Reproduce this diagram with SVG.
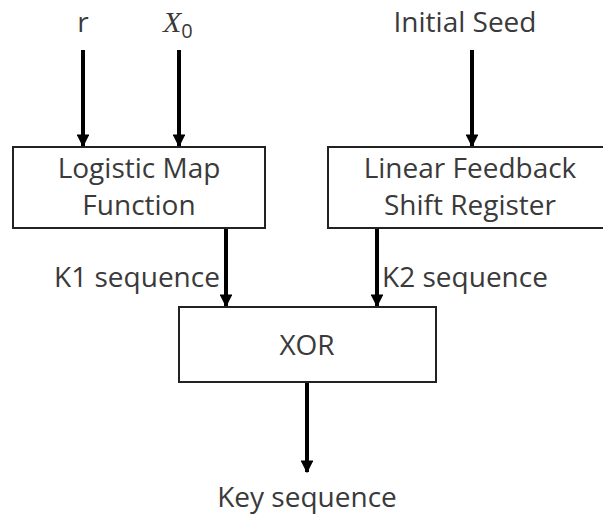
<svg xmlns="http://www.w3.org/2000/svg" width="603" height="516" viewBox="0 0 603 516">
<style>
.box{fill:#fff;stroke:#222;stroke-width:2}
.t{font-family:"Open Sans","Liberation Sans",sans-serif;font-size:28px;fill:#3a3a3a;text-anchor:middle}
.c{stroke:#000;stroke-width:4;fill:none}
</style>
<defs>
<marker id="ah" viewBox="0 0 10 10" refX="9" refY="5" markerWidth="3.2" markerHeight="3.2" orient="auto" markerUnits="strokeWidth">
<path d="M0,0 L10,5 L0,10 z" fill="#000"/>
</marker>
</defs>
<rect width="603" height="516" fill="#fff"/>
<g id="connectors">
<line class="c" x1="83" y1="50" x2="83" y2="146" marker-end="url(#ah)"/>
<line class="c" x1="179" y1="50" x2="179" y2="146" marker-end="url(#ah)"/>
<line class="c" x1="472" y1="50" x2="472" y2="146" marker-end="url(#ah)"/>
<line class="c" x1="226" y1="228" x2="226" y2="306" marker-end="url(#ah)"/>
<line class="c" x1="377" y1="228" x2="377" y2="306" marker-end="url(#ah)"/>
<line class="c" x1="307" y1="382" x2="307" y2="472" marker-end="url(#ah)"/>
</g>
<g id="in_r"><text class="t" x="83" y="32">r</text></g>
<g id="in_x0"><text x="163" y="32" font-family="Liberation Serif,serif" font-style="italic" font-size="30" fill="#3a3a3a">X<tspan font-family="Open Sans,sans-serif" font-style="normal" font-size="20" dy="6">0</tspan></text></g>
<g id="in_seed"><text class="t" x="465" y="32">Initial Seed</text></g>
<g id="logistic">
<rect class="box" x="13" y="147" width="252" height="81"/>
<text class="t" x="139" y="178">Logistic Map</text>
<text class="t" x="139" y="215">Function</text>
</g>
<g id="lfsr">
<rect class="box" x="328" y="147" width="290" height="81"/>
<text class="t" x="470" y="178">Linear Feedback</text>
<text class="t" x="470" y="215">Shift Register</text>
</g>
<g id="k1"><text class="t" x="137" y="287">K1 sequence</text></g>
<g id="k2"><text class="t" x="465" y="287">K2 sequence</text></g>
<g id="xor">
<rect class="box" x="179" y="307" width="257" height="75"/>
<text class="t" x="307" y="355">XOR</text>
</g>
<g id="out"><text class="t" x="307" y="507">Key sequence</text></g>
</svg>
